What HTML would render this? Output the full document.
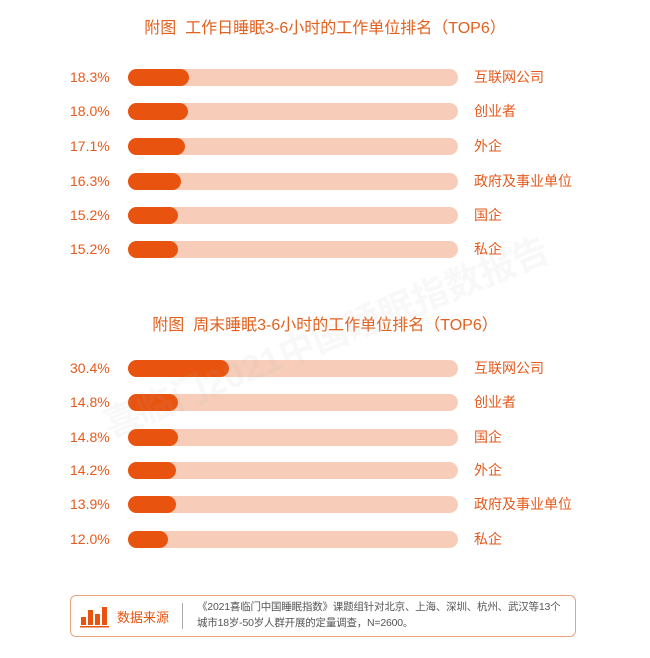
<!DOCTYPE html>
<html><head><meta charset="utf-8"><style>
*{margin:0;padding:0}
body{width:650px;height:658px;background:#fff;position:relative;overflow:hidden;font-family:"Liberation Sans","Noto Sans CJK SC",sans-serif;color:#e55a1c}
.t{position:absolute;left:0;width:650px;text-align:center;font-size:16px;color:#e2611f}
.p{position:absolute;left:70px;font-size:14px;line-height:18px}
.tr{position:absolute;left:128px;width:330px;height:17px;border-radius:9px;background:#f7cdb9}
.f{position:absolute;left:0;top:0;height:17px;border-radius:9px;background:#e8540f}
.l{position:absolute;left:474px;font-size:14px;line-height:18px}
.wm{position:absolute;left:95px;top:400px;font-size:36px;font-weight:bold;color:rgba(180,180,180,0.09);transform:rotate(-22deg);transform-origin:left top;white-space:nowrap}
.box{position:absolute;left:70px;top:595px;width:504px;height:40px;border:1.5px solid #eaa27f;border-radius:6px}
</style></head><body>
<div class="t" style="top:14px">附图&nbsp; 工作日睡眠3-6小时的工作单位排名（TOP6）</div>
<div class="t" style="top:311px">附图&nbsp; 周末睡眠3-6小时的工作单位排名（TOP6）</div>

<div class="p" style="top:68px">18.3%</div><div class="tr" style="top:69px"><div class="f" style="width:61px"></div></div><div class="l" style="top:68px">互联网公司</div>
<div class="p" style="top:102px">18.0%</div><div class="tr" style="top:103px"><div class="f" style="width:60px"></div></div><div class="l" style="top:102px">创业者</div>
<div class="p" style="top:137px">17.1%</div><div class="tr" style="top:138px"><div class="f" style="width:57px"></div></div><div class="l" style="top:137px">外企</div>
<div class="p" style="top:172px">16.3%</div><div class="tr" style="top:173px"><div class="f" style="width:53px"></div></div><div class="l" style="top:172px">政府及事业单位</div>
<div class="p" style="top:206px">15.2%</div><div class="tr" style="top:207px"><div class="f" style="width:50px"></div></div><div class="l" style="top:206px">国企</div>
<div class="p" style="top:240px">15.2%</div><div class="tr" style="top:241px"><div class="f" style="width:50px"></div></div><div class="l" style="top:240px">私企</div>

<div class="p" style="top:359px">30.4%</div><div class="tr" style="top:360px"><div class="f" style="width:101px"></div></div><div class="l" style="top:359px">互联网公司</div>
<div class="p" style="top:393px">14.8%</div><div class="tr" style="top:394px"><div class="f" style="width:50px"></div></div><div class="l" style="top:393px">创业者</div>
<div class="p" style="top:428px">14.8%</div><div class="tr" style="top:429px"><div class="f" style="width:50px"></div></div><div class="l" style="top:428px">国企</div>
<div class="p" style="top:461px">14.2%</div><div class="tr" style="top:462px"><div class="f" style="width:48px"></div></div><div class="l" style="top:461px">外企</div>
<div class="p" style="top:495px">13.9%</div><div class="tr" style="top:496px"><div class="f" style="width:48px"></div></div><div class="l" style="top:495px">政府及事业单位</div>
<div class="p" style="top:530px">12.0%</div><div class="tr" style="top:531px"><div class="f" style="width:40px"></div></div><div class="l" style="top:530px">私企</div>

<div class="wm">喜临门2021中国睡眠指数报告</div>

<div class="box">
<svg style="position:absolute;left:9px;top:8px" width="30" height="24"><rect x="1" y="13" width="5" height="8" fill="#e8540f"/><rect x="8" y="6" width="5" height="15" fill="#e8540f"/><rect x="15" y="10" width="5" height="11" fill="#e8540f"/><rect x="22" y="3" width="5" height="18" fill="#e8540f"/><rect x="0" y="22" width="29" height="1.5" fill="#e8540f"/></svg>
<div style="position:absolute;left:46px;top:11px;font-size:13px;color:#e8540f">数据来源</div>
<div style="position:absolute;left:111px;top:7px;width:1px;height:26px;background:#aaa"></div>
<div style="position:absolute;left:126px;top:3px;font-size:10.5px;line-height:16px;color:#555;white-space:nowrap;letter-spacing:-0.2px">《2021喜临门中国睡眠指数》课题组针对北京、上海、深圳、杭州、武汉等13个<br>城市18岁-50岁人群开展的定量调查，N=2600。</div>
</div>
</body></html>
